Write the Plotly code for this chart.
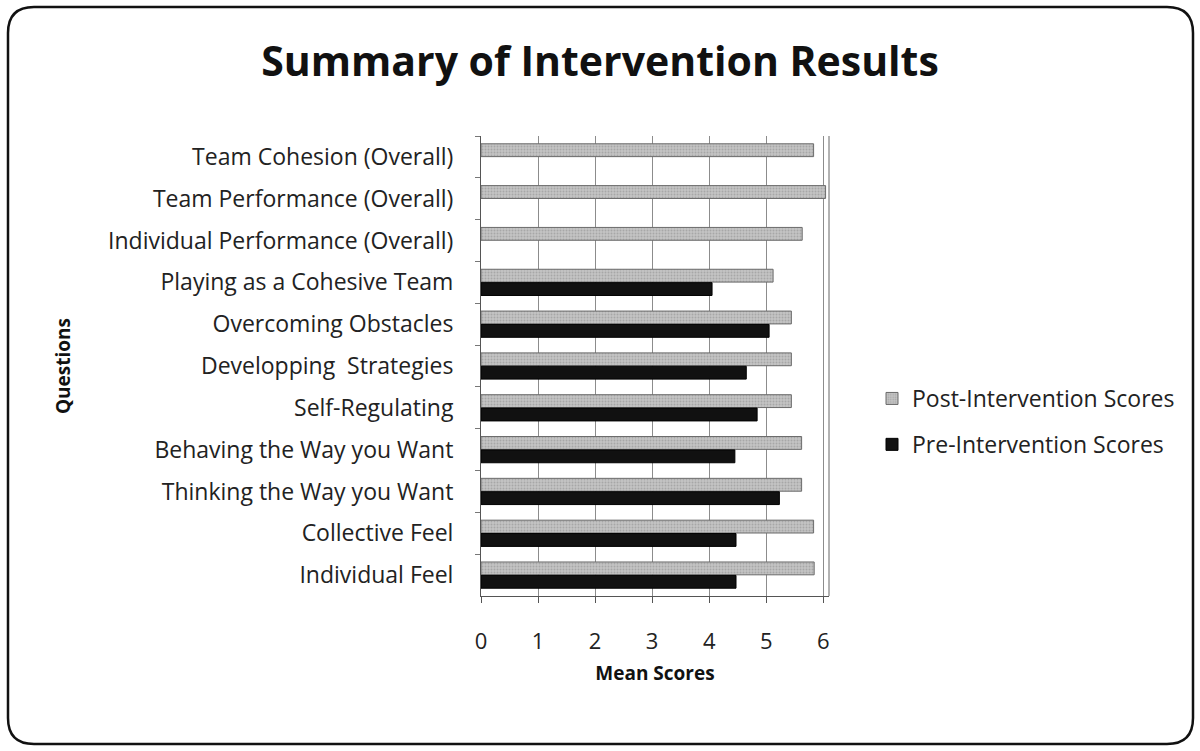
import plotly.graph_objects as go

categories = [
    "Team Cohesion (Overall)",
    "Team Performance (Overall)",
    "Individual Performance (Overall)",
    "Playing as a Cohesive Team",
    "Overcoming Obstacles",
    "Developping  Strategies",
    "Self-Regulating",
    "Behaving the Way you Want",
    "Thinking the Way you Want",
    "Collective Feel",
    "Individual Feel",
]
post_scores = [5.83, 6.04, 5.63, 5.12, 5.44, 5.44, 5.44, 5.62, 5.62, 5.83, 5.84]
pre_scores = [None, None, None, 4.05, 5.05, 4.65, 4.84, 4.45, 5.23, 4.47, 4.47]
x_ticks = [0, 1, 2, 3, 4, 5, 6]

FONT = "Open Sans"

# plot area geometry (pixels)
W, H = 1200, 751
L, R, T, B = 481, 1200 - 829, 136, 751 - 596
PW, PH = W - L - R, H - T - B


def px(x):
    return (x - L) / PW


def py(y):
    return (H - B - y) / PH


def rounded_rect(x0, y0, x1, y1, r):
    pts = []
    pts.append(f"M {px(x0 + r)} {py(y0)}")
    pts.append(f"L {px(x1 - r)} {py(y0)}")
    pts.append(f"Q {px(x1)} {py(y0)} {px(x1)} {py(y0 + r)}")
    pts.append(f"L {px(x1)} {py(y1 - r)}")
    pts.append(f"Q {px(x1)} {py(y1)} {px(x1 - r)} {py(y1)}")
    pts.append(f"L {px(x0 + r)} {py(y1)}")
    pts.append(f"Q {px(x0)} {py(y1)} {px(x0)} {py(y1 - r)}")
    pts.append(f"L {px(x0)} {py(y0 + r)}")
    pts.append(f"Q {px(x0)} {py(y0)} {px(x0 + r)} {py(y0)}")
    pts.append("Z")
    return " ".join(pts)


fig = go.Figure()
fig.add_trace(go.Bar(
    name="Post-Intervention Scores",
    y=categories, x=post_scores, orientation="h",
    legendgroup="post",
    marker=dict(
        color="#b4b4b4",
        line=dict(color="#6a6a6a", width=1),
        pattern=dict(shape=".", fgcolor="#8a8a8a", bgcolor="#c4c4c4", size=3, solidity=0.35),
    ),
))
fig.add_trace(go.Bar(
    name="Pre-Intervention Scores",
    y=categories, x=pre_scores, orientation="h",
    legendgroup="pre",
    marker=dict(color="#111111", line=dict(color="#000000", width=1)),
))

fig.update_layout(
    width=W, height=H,
    paper_bgcolor="white", plot_bgcolor="white",
    margin=dict(l=L, r=R, t=T, b=B),
    barmode="group", bargap=0.36, bargroupgap=0.04,
    font=dict(family=FONT, size=23, color="#222222"),
    title=dict(
        text="<b>Summary of Intervention Results</b>",
        x=0.5, xref="container", xanchor="center",
        y=1 - 62 / H, yref="container", yanchor="middle",
        font=dict(family=FONT, size=41, color="#111111"),
    ),
    xaxis=dict(
        range=[0, 6.1],
        tickmode="array", tickvals=x_ticks, ticktext=[str(v) for v in x_ticks],
        showgrid=True, gridcolor="#8c8c8c", gridwidth=1,
        showline=True, linecolor="#555555", linewidth=1,
        ticks="outside", ticklen=6, tickcolor="#555555",
        ticklabelstandoff=20,
        zeroline=False,
        tickfont=dict(family=FONT, size=22, color="#222222"),
        title=dict(text="<b>Mean Scores</b>", standoff=12,
                   font=dict(family=FONT, size=19, color="#111111")),
    ),
    yaxis=dict(
        autorange="reversed",
        showline=True, linecolor="#555555", linewidth=1,
        ticks="outside", ticklen=5, tickcolor="#777777", tickson="boundaries",
        ticklabelstandoff=22,
        showgrid=False,
        tickfont=dict(family=FONT, size=23, color="#222222"),
        title=dict(text="<b>Questions</b>", standoff=32,
                   font=dict(family=FONT, size=19, color="#111111")),
    ),
    legend=dict(
        x=px(872), xanchor="left",
        y=py(377), yanchor="top",
        traceorder="grouped", tracegroupgap=13,
        font=dict(family=FONT, size=23, color="#222222"),
        itemwidth=30,
        bgcolor="rgba(0,0,0,0)",
    ),
    showlegend=True,
)

# right wall edge
fig.add_shape(type="line", xref="paper", yref="paper",
              x0=1, x1=1, y0=0, y1=1, line=dict(color="#666666", width=1))

# chart border (rounded)
fig.add_shape(type="path", xref="paper", yref="paper",
              path=rounded_rect(8, 7, 1193, 744, 26),
              line=dict(color="#111111", width=2.5), layer="below")

fig.write_html("out.html", config={"displayModeBar": False},
               post_script="document.body.style.margin='0';")
